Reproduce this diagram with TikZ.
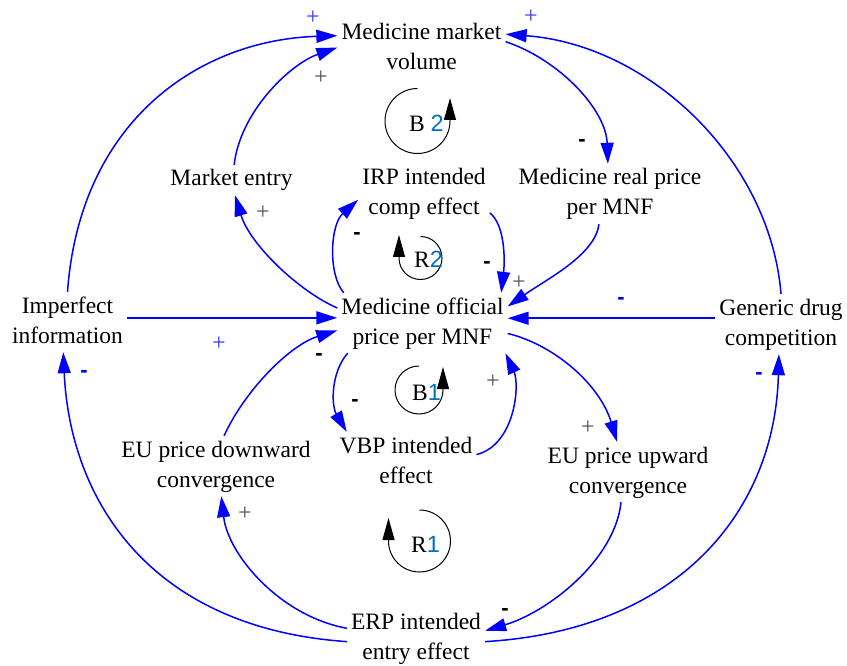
\documentclass[tikz,border=0pt]{standalone}
\usepackage{fontspec}
\setmainfont{Liberation Serif}
\newfontfamily\digitfont{Liberation Sans}
\usetikzlibrary{arrows.meta}
\definecolor{linkblue}{RGB}{0,0,255}
\definecolor{loopblue}{RGB}{0,112,192}
\definecolor{signgray}{RGB}{80,80,80}
\begin{document}
\begin{tikzpicture}[x=1pt,y=-1pt,
  var/.style={align=center,inner xsep=4pt,inner ysep=0pt,
    font=\fontsize{23.5}{30}\selectfont},
  link/.style={draw=linkblue,line width=1.5pt,
    -{Triangle[length=21pt,width=13pt]}},
  loopline/.style={draw=black,line width=1pt,
    -{Triangle[length=22pt,width=12pt]}},
  looplabel/.style={anchor=base,inner sep=0pt,
    font=\fontsize{23.5}{30}\selectfont},
  posblue/.style={text=linkblue!80,inner sep=0pt,font=\fontsize{24}{24}\selectfont},
  posgray/.style={text=signgray,inner sep=0pt,font=\fontsize{24}{24}\selectfont},
  negblack/.style={text=black,inner sep=0pt,font=\digitfont\bfseries\fontsize{22}{22}\selectfont},
  negblue/.style={text=linkblue,inner sep=0pt,font=\digitfont\bfseries\fontsize{22}{22}\selectfont}
]
\useasboundingbox (0,0) rectangle (847,666);

% variables
\node[var] (vol)   at (421.5,49)  {Medicine market\strut\\volume\strut};
\node[var] (entry) at (231.5,180) {Market entry\strut};
\node[var] (irp)   at (424,194)   {IRP intended\strut\\comp effect\strut};
\node[var] (real)  at (610,194)   {Medicine real price\strut\\per MNF\strut};
\node[var] (imp)   at (67.5,322)  {Imperfect\strut\\information\strut};
\node[var] (off)   at (422.5,323) {Medicine official\strut\\price per MNF\strut};
\node[var] (gen)   at (781,324)   {Generic drug\strut\\competition\strut};
\node[var] (eud)   at (216,466)   {EU price downward\strut\\convergence\strut};
\node[var] (vbp)   at (406,462)   {VBP intended\strut\\effect\strut};
\node[var] (euu)   at (628,472)   {EU price upward\strut\\convergence\strut};
\node[var] (erp)   at (416,638)   {ERP intended\strut\\entry effect\strut};

% causal links
\draw[link] (imp.north) .. controls (80,120) and (200,40) .. (vol.171);
\draw[link] (entry.80) .. controls (240,112) and (290,64) .. (vol.179);
\draw[link] (off.170) .. controls (300,292) and (250,245) .. (entry.-77);
\draw[link] (gen.north) .. controls (770,160) and (650,45) .. (vol.10);
\draw[link] (vol.5) .. controls (560,60) and (606,110) .. (real.94);
\draw[link] (real.-110) .. controls (595,255) and (547,279) .. (off.11);
\draw[link] (irp.-16) .. controls (505,225) and (505,260) .. (off.21);
\draw[link] (off.159) .. controls (328,275) and (330,225) .. (irp.185);
\draw[link] (imp.4) -- (imp.4 -| off.west);
\draw[link] (gen.175) -- (gen.175 -| off.east);
\draw[link] (eud.75) .. controls (245,390) and (290,345) .. (off.185);
\draw[link] (off.202) .. controls (331,372) and (331,405) .. (vbp.153);
\draw[link] (vbp.6) .. controls (515,445) and (520,385) .. (off.-20);
\draw[link] (off.-7) .. controls (555,345) and (600,385) .. (euu.110);
\draw[link] (euu.-103) .. controls (615,560) and (548,612) .. (erp.6);
\draw[link] (erp.172) .. controls (280,616) and (228,555) .. (eud.-80);
\draw[link] (erp.183) .. controls (150,628) and (70,500) .. (imp.-98);
\draw[link] (erp.-3) .. controls (680,630) and (775,510) .. (gen.-94);

% link polarities
\node[posblue]  (p1)  at (313,18)  {+};
\node[posblue]  (p2)  at (531,17)  {+};
\node[posgray]  (p3)  at (321,78)  {+};
\node[negblack] (p4)  at (582,143) {-};
\node[posgray]  (p5)  at (263,213) {+};
\node[negblack] (p6)  at (357,236) {-};
\node[negblack] (p7)  at (487,265) {-};
\node[posgray]  (p8)  at (519,283) {+};
\node[posblue]  (p9)  at (219,344) {+};
\node[negblue]  (p10) at (621,301) {-};
\node[negblack] (p11) at (319,357) {-};
\node[negblack] (p12) at (355,403) {-};
\node[posgray]  (p13) at (493,382) {+};
\node[posgray]  (p14) at (588,428) {+};
\node[posgray]  (p15) at (245,514) {+};
\node[negblack] (p16) at (505,612) {-};
\node[negblue]  (p17) at (84,374)  {-};
\node[negblue]  (p18) at (759,376) {-};

% feedback loop markers
\draw[loopline] (417.5,88.5) arc[start angle=270,end angle=0,radius=32.5] -- ++(0,-23);
\node[looplabel] (lb2) at (426.5,132) {B {\digitfont\color{loopblue}2}};
\draw[loopline] (420.5,236.5) arc[start angle=270,end angle=540,radius=21.5] -- ++(0,-23);
\node[looplabel] (lr2) at (428.5,268) {R{\digitfont\color{loopblue}2}};
\draw[loopline] (419,366) arc[start angle=270,end angle=0,radius=24] -- ++(0,-23);
\node[looplabel] (lb1) at (426.5,400) {B{\digitfont\color{loopblue}1}};
\draw[loopline] (419.5,510) arc[start angle=270,end angle=540,radius=31] -- ++(0,-23);
\node[looplabel] (lr1) at (425.5,552) {R{\digitfont\color{loopblue}1}};
\end{tikzpicture}
\end{document}
